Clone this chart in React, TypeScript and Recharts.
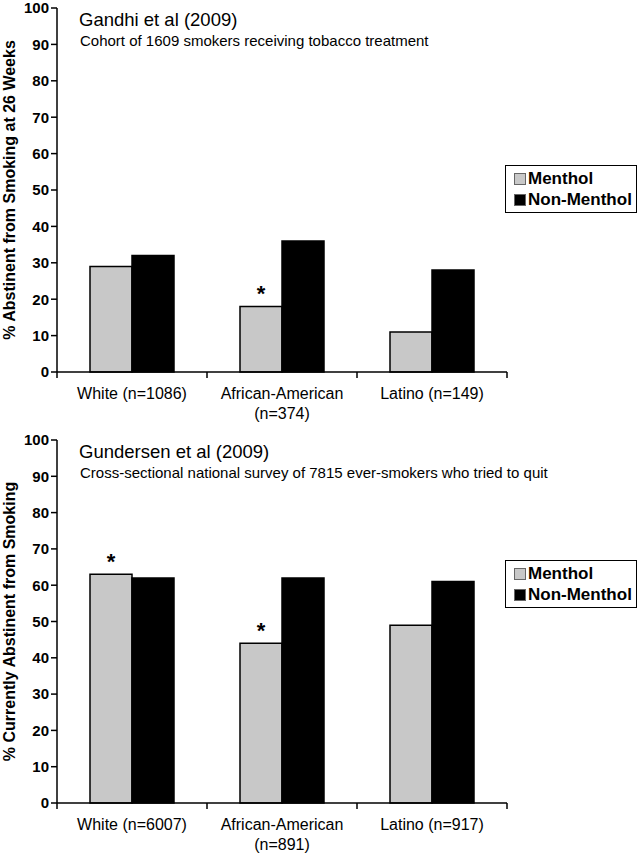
import React from 'react';
import { BarChart, Bar, XAxis, YAxis, Legend, LabelList } from 'recharts';

const FONT = '"Liberation Sans", Arial, Helvetica, sans-serif';

// ---- Data ----
const groups1 = ['White (n=1086)', 'African-American\n(n=374)', 'Latino (n=149)'];
const menthol1 = [29, 18, 11];
const nonMenthol1 = [32, 36, 28];
const sig1 = ['', '*', ''];

const groups2 = ['White (n=6007)', 'African-American\n(n=891)', 'Latino (n=917)'];
const menthol2 = [63, 44, 49];
const nonMenthol2 = [62, 62, 61];
const sig2 = ['*', '*', ''];

const yTicks = [0, 10, 20, 30, 40, 50, 60, 70, 80, 90, 100];
const seriesNames = ['Menthol', 'Non-Menthol'];

const title1 = 'Gandhi et al (2009)';
const subtitle1 = 'Cohort of 1609 smokers receiving tobacco treatment';
const yLabel1 = '% Abstinent from Smoking at 26 Weeks';

const title2 = 'Gundersen et al (2009)';
const subtitle2 = 'Cross-sectional national survey of 7815 ever-smokers who tried to quit';
const yLabel2 = '% Currently Abstinent from Smoking';

const MENTHOL_FILL = '#c8c8c8';
const NON_FILL = '#000000';

const build = (groups: string[], m: number[], n: number[], s: string[]) =>
  groups.map((g, i) => ({ group: g, menthol: m[i], nonMenthol: n[i], sig: s[i] }));

const data1 = build(groups1, menthol1, nonMenthol1, sig1);
const data2 = build(groups2, menthol2, nonMenthol2, sig2);

const XTick = (props: any) => {
  const { x, y, payload, index } = props;
  const half = payload && typeof payload.offset === 'number' && payload.offset > 0 ? payload.offset : 75;
  const axisY = y - 8;
  const lines = String(payload.value).split('\n');
  return (
    <g>
      {index === 0 && (
        <line x1={x - half} x2={x - half} y1={axisY} y2={axisY + 6} stroke="#000" strokeWidth={1.5} />
      )}
      <line x1={x + half} x2={x + half} y1={axisY} y2={axisY + 6} stroke="#000" strokeWidth={1.5} />
      {lines.map((l, i) => (
        <text key={i} x={x} y={y} dy={19 + i * 20} textAnchor="middle" fontFamily={FONT} fontSize={16} fill="#000">
          {l}
        </text>
      ))}
    </g>
  );
};

const makeYLabel = (text: string) => (props: any) => {
  const vb = props && props.viewBox ? props.viewBox : { x: 0, y: 8, width: 57, height: 364 };
  const cx = vb.x + 9;
  const cy = vb.y + vb.height / 2;
  return (
    <text
      x={cx}
      y={cy}
      transform={`rotate(-90, ${cx}, ${cy})`}
      textAnchor="middle"
      dominantBaseline="central"
      fontFamily={FONT}
      fontSize={16}
      fontWeight="bold"
      fill="#000"
    >
      {text}
    </text>
  );
};

const LegendBox = (props: any) => {
  const items = props.payload || [];
  return (
    <div
      style={{
        boxSizing: 'border-box',
        width: 132,
        height: 48,
        border: '1.5px solid #000',
        background: '#fff',
        padding: '2px 0 0 8px',
        fontFamily: FONT,
      }}
    >
      {items.map((it: any) => (
        <div key={it.value} style={{ display: 'flex', alignItems: 'center', height: 21 }}>
          <span
            style={{
              display: 'inline-block',
              width: 12,
              height: 12,
              boxSizing: 'border-box',
              background: it.dataKey === 'menthol' ? MENTHOL_FILL : NON_FILL,
              border: '1px solid #666',
              marginRight: 2,
            }}
          />
          <span style={{ fontSize: 17, fontWeight: 'bold', lineHeight: '21px', color: '#000' }}>{it.value}</span>
        </div>
      ))}
    </div>
  );
};

type PanelProps = {
  data: any[];
  height: number;
  marginTop: number;
  marginBottom: number;
  title: string;
  subtitle: string;
  yLabel: string;
  legendTop: number;
};

const Panel = ({ data, height, marginTop, marginBottom, title, subtitle, yLabel, legendTop }: PanelProps) => (
  <BarChart
    width={640}
    height={height}
    data={data}
    margin={{ top: marginTop, right: 133, bottom: marginBottom, left: 0 }}
    barGap={0}
    barSize={42}
  >
    <XAxis
      dataKey="group"
      interval={0}
      height={40}
      tickLine={false}
      axisLine={{ stroke: '#000', strokeWidth: 1.5 }}
      tick={<XTick />}
    />
    <YAxis
      width={57}
      domain={[0, 100]}
      ticks={yTicks}
      interval={0}
      axisLine={{ stroke: '#000', strokeWidth: 1.5 }}
      tickLine={{ stroke: '#000', strokeWidth: 1.5 }}
      tickSize={6}
      tick={{ fill: '#000', fontSize: 15, fontWeight: 'bold', fontFamily: FONT }}
      label={makeYLabel(yLabel)}
    />
    <Legend
      layout="horizontal"
      verticalAlign="middle"
      align="center"
      wrapperStyle={{ left: 505, top: legendTop, width: 132, height: 48 }}
      content={<LegendBox />}
    />
    <Bar dataKey="menthol" name={seriesNames[0]} fill={MENTHOL_FILL} stroke="#000" strokeWidth={1.5} isAnimationActive={false}>
      <LabelList
        dataKey="sig"
        position="top"
        offset={5}
        style={{ fontSize: 22, fontWeight: 'bold', fill: '#000', fontFamily: FONT }}
      />
    </Bar>
    <Bar dataKey="nonMenthol" name={seriesNames[1]} fill={NON_FILL} stroke="#000" strokeWidth={1.5} isAnimationActive={false} />
    <text x={79} y={marginTop + 18} fontFamily={FONT} fontSize={18.5} fill="#000">
      {title}
    </text>
    <text x={80} y={marginTop + 38} fontFamily={FONT} fontSize={15} fill="#000">
      {subtitle}
    </text>
  </BarChart>
);

export default function App() {
  return (
    <div style={{ position: 'absolute', left: 0, top: 0, width: 640, height: 853, background: '#fff' }}>
      <div style={{ position: 'absolute', left: 0, top: 0 }}>
        <Panel
          data={data1}
          height={425}
          marginTop={8}
          marginBottom={13}
          title={title1}
          subtitle={subtitle1}
          yLabel={yLabel1}
          legendTop={165}
        />
      </div>
      <div style={{ position: 'absolute', left: 0, top: 425 }}>
        <Panel
          data={data2}
          height={428}
          marginTop={15}
          marginBottom={10}
          title={title2}
          subtitle={subtitle2}
          yLabel={yLabel2}
          legendTop={135}
        />
      </div>
    </div>
  );
}
